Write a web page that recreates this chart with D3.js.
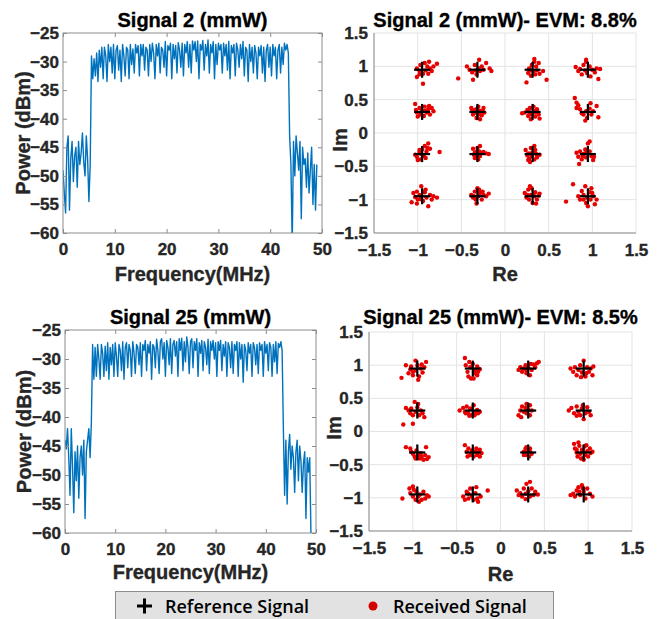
<!DOCTYPE html>
<html>
<head>
<meta charset="utf-8">
<script src="https://cdn.jsdelivr.net/npm/d3@7"></script>
<style>
  body { margin: 0; background: #fff; }
  text { font-family: "Liberation Sans", Arial, sans-serif; }
  .heavy { stroke: currentColor; stroke-width: 0.35px; }
</style>
</head>
<body>
<div id="chart"></div>
<script>
// spectrum data (power in dBm, one value every 0.25 MHz from 0 to 49 MHz)
var freqStep = 0.25;

var sig2Power = [
  -49, -53, -56.5, -45, -43, -56, -47, -44, -51, -46.5, -45, -52, -44, -48, -46, -42.5, -47.5, -50, -43, -47, -54.5, -48,
  -29, -33, -29.5, -32.5, -28.5, -33.5, -28, -31, -27.5, -33,
  -27.5, -29, -33.5, -27, -30, -27.5, -32, -27, -33, -28,
  -27.2, -31.5, -28, -33.5, -27, -29, -32.5, -27.5, -28, -33,
  -27, -30.5, -27.8, -32, -27, -28.5, -27.2, -32.5, -27, -29,
  -27, -31.5, -27.5, -28, -32.5, -27, -30, -26.8, -28.5, -33,
  -27, -29, -26.8, -32, -27.5, -28, -31, -26.5, -32.5, -27.2,
  -28, -26.8, -33, -27, -29.5, -27.2, -32, -26.7, -28, -31,
  -26.8, -32.5, -27, -28.5, -26.5, -31, -27, -32, -26.4, -28,
  -26.5, -30, -26.4, -33, -27, -28, -26.3, -31.5, -27, -29,
  -26.2, -32, -27, -28.5, -26.5, -33, -27, -30.5, -26.8, -28,
  -27, -32, -26.8, -29, -27, -31.5, -26.5, -33, -27.2, -28.5,
  -27, -32.5, -26.8, -28, -31, -27, -29.5, -26.5, -32.5, -27.5,
  -28, -33.5, -27, -30, -27.5, -32, -27.2, -28.5, -33, -27.5,
  -29, -27.2, -32, -27.5, -33.5, -28, -27, -31, -27.5, -32.5,
  -27, -29, -27.5, -33, -28, -27, -32, -27.5, -30.5, -26.8,
  -28, -27, -28.5,
  -43, -48, -62, -44, -50, -43, -46, -49, -44, -57.5, -45, -48, -47, -52, -46, -53, -49, -45, -55, -48, -56, -48
];

var sig25Power = [
  -44, -45.5, -42, -47, -53.5, -42, -48.5, -56.5, -46, -51, -45, -54, -47, -45, -50, -44, -57.5, -46, -44, -42, -47, -41,
  -27.5, -33.5, -28, -33, -27.5, -30, -33.5, -27.5, -29, -33,
  -27.8, -32, -27.2, -33.5, -28, -31, -27.5, -33, -27.2, -29.5,
  -33, -27.5, -28.5, -32, -27, -33.5, -28, -27.2, -31.5, -27.5,
  -28.5, -33, -27, -29, -32.5, -27.5, -28, -31, -27.2, -33,
  -27.5, -28.5, -26.8, -32, -27.5, -29, -27, -33.5, -27.5, -28,
  -31.5, -26.6, -28.5, -32.5, -27, -26.5, -30, -27.2, -33, -26.8,
  -28, -31, -26.5, -32.5, -27.5, -26.8, -29.5, -27, -33, -26.5,
  -28.5, -26.4, -32, -27, -30.5, -26.2, -28, -32.5, -27, -26.5,
  -31.5, -27, -28.5, -26.5, -33, -27.2, -29, -26.8, -32, -27,
  -28, -31, -26.6, -32.5, -27, -28.5, -26.8, -30, -27.2, -33,
  -27, -28.5, -26.8, -32, -27.5, -29.5, -27, -33, -27.2, -28,
  -31.5, -27, -32.5, -27.5, -28.5, -27, -33, -27.2, -30, -27.5,
  -34, -27.5, -28.5, -32, -27.2, -29, -27.5, -33, -27.2, -28,
  -31, -27.5, -32.5, -27.2, -28.5, -27.5, -33, -27, -29, -27.5,
  -32, -27.2, -28, -33, -27.5, -30.5, -27, -32.5, -27.3, -28,
  -27, -28.5,
  -42, -53.5, -44, -55, -46, -43, -49, -45, -47, -53, -46, -44, -51, -45, -47.5, -53, -48, -46, -57.5, -47, -49.5, -47, -60.5
];

var freqTicks = [0, 10, 20, 30, 40, 50];
var powerTicks = [-25, -30, -35, -40, -45, -50, -55, -60];

// 16-QAM reference levels and axis ticks
var qamLevels = [-0.949, -0.316, 0.316, 0.949];
var iqTicks = [-1.5, -1, -0.5, 0, 0.5, 1, 1.5];

// received symbols: offsets from the reference point in 0.01 units,
// clusters row by row (Im = 0.949 first), left to right
var sig2Rx = [
  [[-6,2],[-6,-11],[-3,-2],[-2,7],[1,-6],[3,10],[4,-1],[6,5],[7,-6],[9,2],[11,-2],[13,5],[17,9],[1,-21],[8,12],[-3,-7]],
  [[-22,-13],[-12,5],[-9,0],[-6,-4],[-3,7],[-1,-7],[1,2],[2,15],[3,-2],[5,5],[7,0],[10,10],[14,2],[16,-2],[-5,-15],[-2,-1]],
  [[-7,-19],[-5,-5],[-4,2],[-2,-9],[-1,7],[1,-2],[2,12],[3,-7],[4,5],[5,-1],[7,10],[8,-6],[12,-2],[16,-15],[-3,-1],[2,16]],
  [[-14,4],[-11,-2],[-9,1],[-7,-7],[-5,7],[-3,-1],[-2,12],[-1,-5],[2,5],[3,-10],[5,0],[8,-4],[10,2],[12,-14],[14,1],[-2,15]],
  [[-8,12],[-7,3],[-6,-1],[-3,6],[-2,-4],[0,2],[2,-6],[3,8],[5,-1],[7,4],[9,-4],[11,6],[13,1],[-5,-7],[4,2],[8,9]],
  [[-7,6],[-5,-4],[-3,3],[-1,-9],[1,8],[2,-1],[3,2],[5,-5],[7,6],[8,-1],[-2,-1],[3,-11],[-6,1],[6,1],[1,-4],[-1,4]],
  [[-12,-2],[-9,-1],[-6,3],[-5,-6],[-3,6],[-1,-4],[1,8],[2,1],[3,-7],[5,4],[7,-4],[8,-10],[-2,-11],[3,-1],[-4,0],[5,1]],
  [[-15,21],[-13,14],[-11,10],[-13,6],[-9,4],[-7,-2],[-5,-4],[-2,1],[-1,-9],[2,5],[4,-4],[6,1],[10,9],[12,-8],[-3,-13],[3,13]],
  [[-8,-1],[-6,-4],[-3,3],[-2,-8],[0,7],[2,-3],[3,12],[5,4],[7,16],[9,8],[-5,-9],[4,-6],[20,3],[-1,0],[6,9],[-3,6]],
  [[-5,8],[-3,2],[-2,-4],[0,9],[1,-8],[2,4],[3,-3],[5,2],[10,1],[13,0],[-1,3],[3,12],[-3,-6],[1,-1],[7,3],[-4,-1]],
  [[-8,6],[-6,-2],[-5,1],[-4,-7],[-2,9],[-1,-3],[1,4],[2,-8],[4,0],[5,-5],[8,-1],[-3,-12],[2,12],[-2,1],[3,6],[-5,-9]],
  [[-13,2],[-11,-4],[-9,4],[-7,-8],[-5,0],[-3,7],[-2,-5],[0,16],[2,4],[4,-3],[6,-9],[7,-4],[-10,-15],[2,19],[-2,2],[-6,-3]],
  [[-12,-9],[-10,5],[-8,-1],[-6,7],[-5,-5],[-3,2],[-1,15],[1,-7],[3,6],[5,-2],[7,-15],[9,2],[11,-5],[13,0],[17,-2],[-6,-11],[4,10],[-2,-4]],
  [[-7,2],[-5,-2],[-3,7],[-2,-5],[0,12],[1,0],[3,5],[5,-5],[7,2],[10,0],[13,4],[-1,-11],[2,10],[-4,0],[6,7]],
  [[-9,5],[-7,-2],[-5,10],[-4,-5],[-2,2],[-1,12],[0,-10],[2,0],[3,6],[5,-5],[7,1],[8,4],[-3,15],[4,-11],[-6,2]],
  [[-25,-8],[-17,18],[-11,0],[-9,-5],[-7,8],[-5,2],[-3,15],[-2,-10],[-1,-2],[2,6],[3,-5],[4,12],[6,0],[8,-12],[10,-5],[-5,-5],[0,-15],[5,5]]
];

var sig25Rx = [
  [[-18,-14],[-13,5],[-10,-7],[-8,-1],[-7,3],[-5,-10],[-3,-3],[-2,12],[0,5],[2,-12],[4,0],[6,-6],[8,2],[10,10],[1,-17],[-5,-5],[5,6]],
  [[-9,16],[-8,5],[-6,-5],[-5,-12],[-3,2],[-2,-15],[0,7],[2,-7],[3,-2],[5,3],[6,-5],[8,-1],[-4,10],[1,-15],[5,-10]],
  [[-11,-2],[-9,2],[-7,-5],[-5,0],[-3,5],[-2,-7],[0,2],[2,-10],[4,-2],[6,6],[8,2],[10,8],[12,10],[-2,-3],[3,7]],
  [[-15,0],[-12,-5],[-10,2],[-8,-10],[-6,-2],[-4,5],[-2,-6],[0,12],[2,-12],[4,2],[6,-5],[8,0],[10,-10],[11,3],[-3,-13],[3,-7]],
  [[-16,-21],[-5,-20],[-13,4],[-10,0],[-8,-4],[-7,3],[-3,13],[-2,-2],[0,5],[2,-7],[4,0],[6,-4],[8,-10],[-5,-7],[1,10]],
  [[-15,0],[-11,4],[-9,-2],[-7,6],[-5,-4],[-3,3],[-1,-7],[1,8],[3,-2],[5,1],[6,-4],[8,-2],[-4,-8],[2,-7],[-8,-4]],
  [[-11,-7],[-9,0],[-7,6],[-5,-2],[-3,4],[-2,-4],[0,1],[2,8],[4,0],[-8,-10],[-2,10],[2,-7]],
  [[-17,0],[-14,4],[-11,-4],[-8,6],[-6,-2],[-4,-7],[-2,3],[0,-13],[2,-4],[4,5],[6,-2],[8,-7],[-8,-8],[-1,8]],
  [[-13,8],[-8,6],[-7,1],[-5,-2],[-3,-6],[-1,3],[1,-4],[3,-9],[5,-6],[7,-11],[9,-4],[11,-10],[13,-7],[10,8],[-2,-9],[4,-1]],
  [[-9,11],[-7,1],[-5,6],[-3,-4],[-1,3],[1,-6],[3,1],[5,-4],[6,0],[8,-6],[10,-1],[-6,-6],[4,6],[8,4]],
  [[-5,1],[-3,6],[-2,-4],[-1,3],[1,-6],[2,1],[4,-2],[-2,8],[2,6],[-5,-4]],
  [[-11,13],[-10,6],[-8,0],[-7,-6],[-5,10],[-4,-2],[-2,4],[-1,-9],[1,9],[2,-4],[4,2],[5,-6],[7,6],[8,-1],[10,1],[-8,4],[-3,-9],[3,11],[-6,15],[0,-11]],
  [[-17,-6],[-9,9],[-8,2],[-5,-3],[-4,7],[-2,-8],[-1,4],[1,-3],[3,0],[5,-8],[7,4],[9,-6],[11,-1],[13,-3],[2,-11],[-5,12]],
  [[-11,-3],[-9,-8],[-7,4],[-5,-6],[-3,9],[-1,-3],[1,-8],[3,2],[5,-6],[6,-11],[9,-3],[17,6],[-5,1],[4,11]],
  [[-13,6],[-11,-1],[-9,2],[-7,-3],[-5,9],[-3,1],[-2,16],[0,5],[2,-3],[4,9],[6,-1],[8,4],[11,0],[-3,-7],[2,19]],
  [[-15,-1],[-12,1],[-10,-3],[-8,6],[-6,11],[-4,-1],[-2,14],[0,4],[2,-6],[4,9],[7,1],[10,-3],[-5,4],[-1,9]]
];

var width = 660, height = 619;
var axisGray = "#8c8c8c";
var textDark = "#262626";
var lineBlue = "#0072bd";
var dotRed = "#e60000";

var svg = d3.select("#chart").append("svg")
    .attr("width", width)
    .attr("height", height);

svg.append("rect").attr("width", width).attr("height", height).attr("fill", "#fff");

function styleTicks(g, size) {
    g.select(".domain").remove();
    g.selectAll(".tick line").attr("stroke", axisGray);
    g.selectAll(".tick text")
        .attr("class", "heavy")
        .attr("fill", textDark)
        .style("color", textDark)
        .style("font-size", size + "px")
        .style("font-weight", "bold");
}

function label(x, y, txt, rotate) {
    var t = svg.append("text")
        .attr("class", "heavy")
        .attr("text-anchor", "middle")
        .attr("fill", textDark)
        .style("color", textDark)
        .style("font-size", "20px").style("font-weight", "bold")
        .text(txt);
    if (rotate) {
        t.attr("transform", "translate(" + x + "," + y + ") rotate(-90)");
    } else {
        t.attr("x", x).attr("y", y);
    }
    return t;
}

// spectrum panel
function drawSpectrum(box, power, title, clipId) {
    var x = d3.scaleLinear().domain([0, 50]).range([box.x0, box.x1]);
    var y = d3.scaleLinear().domain([-60, -25]).range([box.y1, box.y0]);

    svg.append("clipPath").attr("id", clipId)
        .append("rect")
        .attr("x", box.x0).attr("y", box.y0)
        .attr("width", box.x1 - box.x0).attr("height", box.y1 - box.y0);

    var line = d3.line()
        .x(function (d, i) { return x(i * freqStep); })
        .y(function (d) { return y(d); });

    svg.append("path")
        .datum(power)
        .attr("clip-path", "url(#" + clipId + ")")
        .attr("fill", "none")
        .attr("stroke", lineBlue)
        .attr("stroke-width", 1.4)
        .attr("stroke-linejoin", "round")
        .attr("d", line);

    // inward ticks on all four sides
    svg.append("g").attr("transform", "translate(0," + box.y1 + ")")
        .call(d3.axisBottom(x).tickValues(freqTicks).tickSize(-4).tickPadding(10))
        .call(styleTicks, 17);
    svg.append("g").attr("transform", "translate(0," + box.y0 + ")")
        .call(d3.axisTop(x).tickValues(freqTicks).tickSize(-4).tickFormat(""))
        .call(styleTicks, 17);
    svg.append("g").attr("transform", "translate(" + box.x0 + ",0)")
        .call(d3.axisLeft(y).tickValues(powerTicks).tickSize(-4).tickPadding(4))
        .call(styleTicks, 17);
    svg.append("g").attr("transform", "translate(" + box.x1 + ",0)")
        .call(d3.axisRight(y).tickValues(powerTicks).tickSize(-4).tickFormat(""))
        .call(styleTicks, 17);

    svg.append("rect")
        .attr("x", box.x0).attr("y", box.y0)
        .attr("width", box.x1 - box.x0).attr("height", box.y1 - box.y0)
        .attr("fill", "none")
        .attr("stroke", axisGray);

    label((box.x0 + box.x1) / 2, box.titleY, title).attr("fill", "#000").style("color", "#000");
    label((box.x0 + box.x1) / 2, box.xLabelY, "Frequency(MHz)");
    label(box.yLabelX, (box.y0 + box.y1) / 2, "Power (dBm)", true);
}

// constellation panel
function drawConstellation(box, rx, title) {
    var x = d3.scaleLinear().domain([-1.5, 1.5]).range([box.x0, box.x1]);
    var y = d3.scaleLinear().domain([-1.5, 1.5]).range([box.y1, box.y0]);

    // grid
    svg.append("g").selectAll("line").data(iqTicks).enter().append("line")
        .attr("x1", function (d) { return x(d); }).attr("x2", function (d) { return x(d); })
        .attr("y1", box.y0).attr("y2", box.y1)
        .attr("stroke", "#e3e3e3");
    svg.append("g").selectAll("line").data(iqTicks).enter().append("line")
        .attr("x1", box.x0).attr("x2", box.x1)
        .attr("y1", function (d) { return y(d); }).attr("y2", function (d) { return y(d); })
        .attr("stroke", "#e3e3e3");

    svg.append("g").attr("transform", "translate(0," + box.y1 + ")")
        .call(d3.axisBottom(x).tickValues(iqTicks).tickSize(0).tickPadding(11).tickFormat(d3.format("")))
        .call(styleTicks, 17);
    svg.append("g").attr("transform", "translate(" + box.x0 + ",0)")
        .call(d3.axisLeft(y).tickValues(iqTicks).tickSize(0).tickPadding(6).tickFormat(d3.format("")))
        .call(styleTicks, 17);

    svg.append("line")
        .attr("x1", box.x0).attr("x2", box.x1).attr("y1", box.y1).attr("y2", box.y1)
        .attr("stroke", axisGray);
    svg.append("line")
        .attr("x1", box.x0).attr("x2", box.x0).attr("y1", box.y0).attr("y2", box.y1)
        .attr("stroke", axisGray);

    // received symbols
    var pts = [];
    rx.forEach(function (cluster, k) {
        var re = qamLevels[k % 4];
        var im = qamLevels[3 - Math.floor(k / 4)];
        cluster.forEach(function (o) {
            pts.push([re + o[0] / 100, im + o[1] / 100]);
        });
    });
    svg.append("g").selectAll("circle").data(pts).enter().append("circle")
        .attr("cx", function (d) { return x(d[0]); })
        .attr("cy", function (d) { return y(d[1]); })
        .attr("r", 2.2)
        .attr("fill", dotRed);

    // reference symbols
    var refs = [];
    qamLevels.forEach(function (im) {
        qamLevels.forEach(function (re) { refs.push([re, im]); });
    });
    var ref = svg.append("g").selectAll("g").data(refs).enter().append("g")
        .attr("transform", function (d) { return "translate(" + x(d[0]) + "," + y(d[1]) + ")"; });
    ref.append("line").attr("x1", -8).attr("x2", 8).attr("stroke", "#000").attr("stroke-width", 2.2);
    ref.append("line").attr("y1", -8).attr("y2", 8).attr("stroke", "#000").attr("stroke-width", 2.2);

    label((box.x0 + box.x1) / 2, box.titleY, title).attr("fill", "#000").style("color", "#000");
    label((box.x0 + box.x1) / 2, box.xLabelY, "Re");
    label(box.yLabelX, box.yLabelMid, "Im", true);
}

drawSpectrum({x0: 63, x1: 322, y0: 33, y1: 233, titleY: 27, xLabelY: 281, yLabelX: 30},
    sig2Power, "Signal 2 (mmW)", "clipTop");
drawSpectrum({x0: 65, x1: 316, y0: 330, y1: 533, titleY: 324, xLabelY: 579, yLabelX: 31},
    sig25Power, "Signal 25 (mmW)", "clipBottom");

drawConstellation({x0: 374, x1: 636, y0: 33, y1: 233, titleY: 27, xLabelY: 281, yLabelX: 347, yLabelMid: 140},
    sig2Rx, "Signal 2 (mmW)- EVM: 8.8%");
drawConstellation({x0: 369, x1: 632, y0: 332, y1: 531, titleY: 324, xLabelY: 581, yLabelX: 341, yLabelMid: 428},
    sig25Rx, "Signal 25 (mmW)- EVM: 8.5%");

// legend
var legend = svg.append("g");
legend.append("rect")
    .attr("x", 115.5).attr("y", 591.5)
    .attr("width", 438).attr("height", 40)
    .attr("fill", "#e2e2e2")
    .attr("stroke", "#8c8c8c");
legend.append("line").attr("x1", 137).attr("x2", 152).attr("y1", 606).attr("y2", 606)
    .attr("stroke", "#000").attr("stroke-width", 3);
legend.append("line").attr("x1", 144.5).attr("x2", 144.5).attr("y1", 598.5).attr("y2", 613.5)
    .attr("stroke", "#000").attr("stroke-width", 3);
legend.append("text")
    .attr("x", 165).attr("y", 613)
    .style("font-family", "'Open Sans', sans-serif")
    .style("font-size", "18px").style("font-weight", 600)
    .text("Reference Signal");
legend.append("circle")
    .attr("cx", 373).attr("cy", 606).attr("r", 4.5)
    .attr("fill", "#d40000");
legend.append("text")
    .attr("x", 393).attr("y", 613)
    .style("font-family", "'Open Sans', sans-serif")
    .style("font-size", "18px").style("font-weight", 600)
    .text("Received Signal");
</script>
</body>
</html>
